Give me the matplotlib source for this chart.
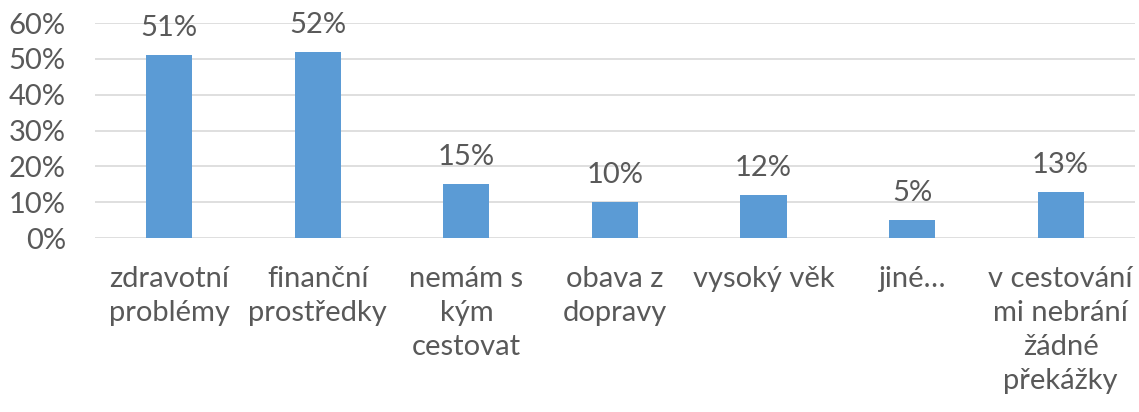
import matplotlib.pyplot as plt
from matplotlib.ticker import PercentFormatter, MultipleLocator

kategorie = ["zdravotní\nproblémy", "finanční\nprostředky", "nemám s\nkým\ncestovat",
             "obava z\ndopravy", "vysoký věk", "jiné…",
             "v cestování\nmi nebrání\nžádné\npřekážky"]
hodnoty = [51, 52, 15, 10, 12, 5, 13]

barva = "#5B9BD5"
text_barva = "#595959"

plt.rcParams['font.family'] = ['Lato', 'DejaVu Sans']

fig = plt.figure(figsize=(11.39, 4.12), dpi=100)
ax = fig.add_axes([0.0834, 0.422, 0.913, 0.522])

x = range(len(hodnoty))
bars = ax.bar(x, hodnoty, width=0.31, color=barva, zorder=3)
for b, v in zip(bars, hodnoty):
    ax.annotate(f"{v}%", (b.get_x() + b.get_width() / 2, v), xytext=(0, 10),
                textcoords="offset points", ha="center", va="bottom",
                fontsize=21, color=text_barva)

ax.set_xlim(-0.5, len(hodnoty) - 0.5)
ax.set_ylim(0, 60)
ax.yaxis.set_major_locator(MultipleLocator(10))
ax.yaxis.set_major_formatter(PercentFormatter(decimals=0))
ax.set_xticks(list(x))
ax.set_xticklabels(kategorie, linespacing=1.38)
ax.grid(axis="y", color="#D9D9D9", linewidth=1.2, zorder=0)
for s in ax.spines.values():
    s.set_visible(False)
ax.tick_params(axis="y", length=0, pad=21, labelsize=21, labelcolor=text_barva)
ax.tick_params(axis="x", length=0, pad=20, labelsize=21, labelcolor=text_barva)

fig.savefig("out.png", dpi=100)
